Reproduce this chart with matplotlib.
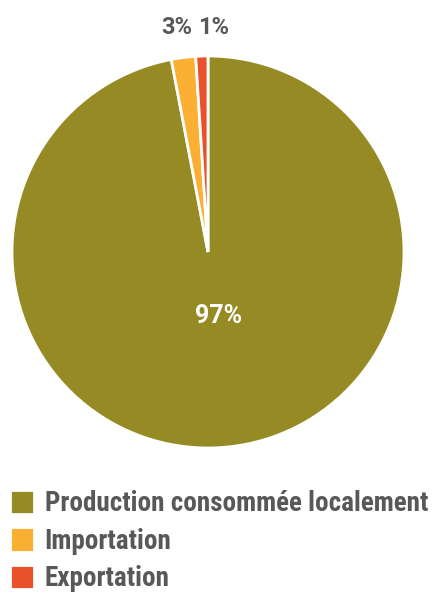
import matplotlib
matplotlib.use("Agg")
import matplotlib.pyplot as plt

categories = ["Production consommée localement", "Importation", "Exportation"]
values = [97, 2, 1]
pct_labels = ["97%", "3%", "1%"]
colors = ["#968a24", "#fbb034", "#e9512a"]

FONT = ["Roboto Condensed", "DejaVu Sans"]
PFONT = ["Roboto", "DejaVu Sans"]
plt.rcParams["font.family"] = FONT
TXT = "#58585a"

fig = plt.figure(figsize=(4.35, 5.94), dpi=100)
ax = fig.add_axes([12/435, (594-448)/594, 392/435, 392/594])
wedges, _ = ax.pie(values, colors=colors, startangle=90, counterclock=False,
                   wedgeprops=dict(edgecolor="white", linewidth=2))
ax.set_xlim(-1, 1); ax.set_ylim(-1, 1)
ax.set_aspect("equal")

# labels
ax.text(0.056, -0.327, pct_labels[0], color="white", fontsize=18, fontweight="bold",
        ha="center", va="center", family=PFONT)
ax.text(-0.158, 1.143, pct_labels[1], color=TXT, fontsize=17, fontweight="bold",
        ha="center", va="center", family=PFONT)
ax.text(0.028, 1.143, pct_labels[2], color=TXT, fontsize=17, fontweight="bold",
        ha="center", va="center", family=PFONT)

leg = fig.legend(wedges, categories, loc="upper left", bbox_to_anchor=(10/435, 1 - 490/594),
                 frameon=False, fontsize=19.5, handlelength=0.9, handleheight=1.0,
                 handletextpad=0.38, labelspacing=0.37, borderaxespad=0, borderpad=0)
for t in leg.get_texts():
    t.set_color(TXT)
    t.set_fontweight("bold")

fig.savefig("out.png", dpi=100)
